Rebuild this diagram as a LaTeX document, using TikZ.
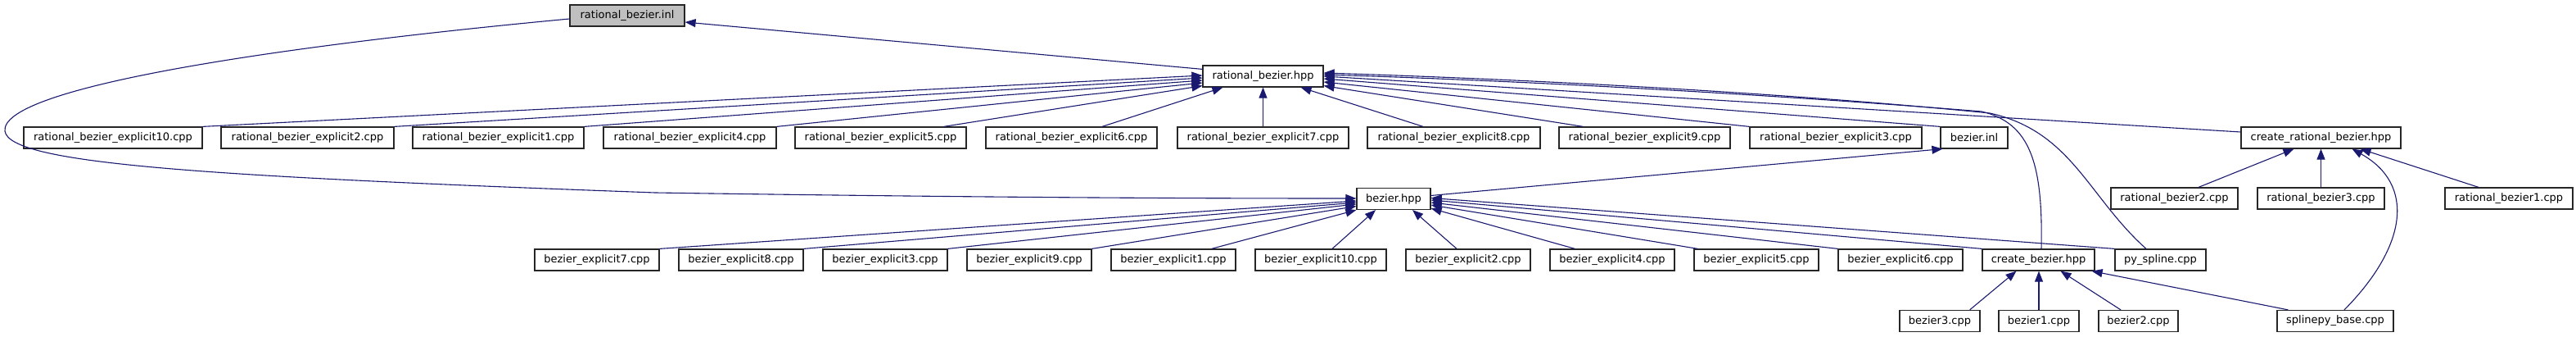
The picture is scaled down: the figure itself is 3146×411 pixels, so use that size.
\documentclass[tikz,border=0pt]{standalone}
\usepackage{fontspec}
\setmainfont{DejaVu Sans}
\usetikzlibrary{arrows.meta,calc}
\definecolor{edgeblue}{HTML}{191970}
\definecolor{rootgray}{HTML}{BFBFBF}
\begin{document}
\begin{tikzpicture}[x=1pt,y=-1pt,
  box/.style={draw=black!85, line width=1.2pt, fill=white, inner sep=0pt,
    minimum height=26pt, font=\fontsize{13}{15}\selectfont},
  rootbox/.style={box, fill=rootgray},
  dep/.style={draw=edgeblue, line width=1.1pt, -{Triangle[length=13pt,width=10pt]}}]
\useasboundingbox (0,0) rectangle (3146,411);

% row A / B
\node[rootbox, minimum width=140pt] (rbinl) at (766,19) {rational\_bezier.inl};
\node[box, minimum width=147pt] (rbhpp) at (1542.5,93) {rational\_bezier.hpp};

% row C
\node[box, minimum width=218pt] (rbe10) at (138,168) {rational\_bezier\_explicit10.cpp};
\node[box, minimum width=211pt] (rbe2) at (375.5,168) {rational\_bezier\_explicit2.cpp};
\node[box, minimum width=209pt] (rbe1) at (608.5,168) {rational\_bezier\_explicit1.cpp};
\node[box, minimum width=211pt] (rbe4) at (842.5,168) {rational\_bezier\_explicit4.cpp};
\node[box, minimum width=209pt] (rbe5) at (1075.5,168) {rational\_bezier\_explicit5.cpp};
\node[box, minimum width=209pt] (rbe6) at (1308.5,168) {rational\_bezier\_explicit6.cpp};
\node[box, minimum width=209pt] (rbe7) at (1542.5,168) {rational\_bezier\_explicit7.cpp};
\node[box, minimum width=211pt] (rbe8) at (1775.5,168) {rational\_bezier\_explicit8.cpp};
\node[box, minimum width=209pt] (rbe9) at (2008.5,168) {rational\_bezier\_explicit9.cpp};
\node[box, minimum width=210pt] (rbe3) at (2242,168) {rational\_bezier\_explicit3.cpp};
\node[box, minimum width=82pt] (bzinl) at (2411,168) {bezier.inl};
\node[box, minimum width=195pt] (crbhpp) at (2834.5,168) {create\_rational\_bezier.hpp};

% row D / E
\node[box, minimum width=155pt] (rb2) at (2655.5,242) {rational\_bezier2.cpp};
\node[box, minimum width=155pt] (rb3) at (2834.5,242) {rational\_bezier3.cpp};
\node[box, minimum width=156pt] (rb1) at (3064,242) {rational\_bezier1.cpp};
\node[box, minimum width=90pt] (bzhpp) at (1702,242.5) {bezier.hpp};

% row F
\node[box, minimum width=152pt] (be7) at (729,317) {bezier\_explicit7.cpp};
\node[box, minimum width=152pt] (be8) at (905,317) {bezier\_explicit8.cpp};
\node[box, minimum width=152pt] (be3) at (1081,317) {bezier\_explicit3.cpp};
\node[box, minimum width=152pt] (be9) at (1257,317) {bezier\_explicit9.cpp};
\node[box, minimum width=152pt] (be1) at (1433,317) {bezier\_explicit1.cpp};
\node[box, minimum width=160pt] (be10) at (1613,317) {bezier\_explicit10.cpp};
\node[box, minimum width=152pt] (be2) at (1793,317) {bezier\_explicit2.cpp};
\node[box, minimum width=152pt] (be4) at (1969,317) {bezier\_explicit4.cpp};
\node[box, minimum width=152pt] (be5) at (2145,317) {bezier\_explicit5.cpp};
\node[box, minimum width=152pt] (be6) at (2321,317) {bezier\_explicit6.cpp};
\node[box, minimum width=137pt] (cbhpp) at (2489.5,317) {create\_bezier.hpp};
\node[box, minimum width=111pt] (pysp) at (2638.5,317) {py\_spline.cpp};

% row G
\node[box, minimum width=98pt] (b3) at (2369,391.5) {bezier3.cpp};
\node[box, minimum width=98pt] (b1) at (2490,391.5) {bezier1.cpp};
\node[box, minimum width=97pt] (b2) at (2611.5,391.5) {bezier2.cpp};
\node[box, minimum width=142pt] (spb) at (2852,391.5) {splinepy\_base.cpp};

% edges to rational_bezier.inl
\draw[dep] ($(rbhpp.north west)+(0,5)$) -- ($(rbinl.east)+(0,8)$);

% edges to rational_bezier.hpp
\draw[dep] (rbe10.north east) -- ($(rbhpp.west)+(0,-1)$);
\draw[dep] (rbe2.north east) -- ($(rbhpp.west)+(0,2)$);
\draw[dep] (rbe1.north east) -- ($(rbhpp.west)+(0,5)$);
\draw[dep] (rbe4.north east) -- ($(rbhpp.west)+(0,8)$);
\draw[dep] ($(rbe5.north east)+(-28,0)$) -- ($(rbhpp.south west)+(0,-2)$);
\draw[dep] ($(rbe6.north)+(37.5,0)$) -- ($(rbhpp.south west)+(25,0)$);
\draw[dep] (rbe7.north) -- (rbhpp.south);
\draw[dep] ($(rbe8.north)+(-37.5,0)$) -- ($(rbhpp.south east)+(-28,0)$);
\draw[dep] ($(rbe9.north west)+(30,0)$) -- ($(rbhpp.south east)+(0,-2)$);
\draw[dep] (rbe3.north west) -- ($(rbhpp.east)+(0,7)$);
\draw[dep] (bzinl.north west) -- ($(rbhpp.east)+(0,3)$);
\draw[dep] ($(crbhpp.west)+(0,-7)$) -- (rbhpp.east);
\draw[dep] ($(cbhpp.north)+(3.5,0)$) .. controls (2495,200) and (2480,150) .. (2420,136)
  .. controls (2200,118) and (1900,100) .. ($(rbhpp.east)+(0,-2)$);
\draw[dep] ($(pysp.north)+(-17.5,0)$) .. controls (2550,240) and (2530,160) .. (2430,138)
  .. controls (2200,115) and (1900,98) .. ($(rbhpp.east)+(0,-4)$);

% edges to bezier.hpp
\draw[dep] ($(rbinl.west)+(0,4)$) .. controls (300,60) and (0,110) .. (6,160)
  .. controls (12,200) and (250,215) .. (800,235)
  .. controls (1200,241) and (1450,242) .. ($(bzhpp.west)+(0,-0.5)$);
\draw[dep] (be7.north east) -- ($(bzhpp.west)+(0,2.5)$);
\draw[dep] (be8.north east) -- ($(bzhpp.west)+(0,4.5)$);
\draw[dep] (be3.north east) -- ($(bzhpp.west)+(0,6.5)$);
\draw[dep] (be9.north east) -- ($(bzhpp.west)+(0,9)$);
\draw[dep] ($(be1.north east)+(-30,0)$) -- (bzhpp.south west);
\draw[dep] ($(be10.north)+(14,0)$) -- ($(bzhpp.south)+(-22,0)$);
\draw[dep] ($(be2.north)+(-14,0)$) -- ($(bzhpp.south)+(23,0)$);
\draw[dep] ($(be4.north west)+(31,0)$) -- ($(bzhpp.south east)+(0,-2)$);
\draw[dep] ($(be5.north west)+(5,0)$) -- ($(bzhpp.east)+(0,7.5)$);
\draw[dep] (be6.north west) -- ($(bzhpp.east)+(0,4.5)$);
\draw[dep] (cbhpp.north west) -- ($(bzhpp.east)+(0,1.5)$);
\draw[dep] (pysp.north west) -- ($(bzhpp.east)+(0,-1)$);

% edge to bezier.inl
\draw[dep] ($(bzhpp.east)+(0,-4)$) -- ($(bzinl.south west)+(3,0)$);

% edges to create_bezier.hpp
\draw[dep] ($(b3.north east)+(-13,0)$) -- ($(cbhpp.south)+(-27,0)$);
\draw[dep] (b1.north) -- (b1.north |- cbhpp.south);
\draw[dep] ($(b2.north)+(-21.5,0)$) -- ($(cbhpp.south)+(27,0)$);
\draw[dep] ($(spb.north west)+(14,0)$) -- ($(cbhpp.south east)+(-4,0)$);

% edges to create_rational_bezier.hpp
\draw[dep] ($(rb2.north)+(29.5,0)$) -- ($(crbhpp.south)+(-33,0)$);
\draw[dep] (rb3.north) -- (crbhpp.south);
\draw[dep] ($(rb1.north)+(-37,0)$) -- ($(crbhpp.south)+(48,0)$);
\draw[dep] ($(spb.north)+(11,0)$) .. controls (2940,300) and (2950,225) .. ($(crbhpp.south)+(38,0)$);
\end{tikzpicture}
\end{document}
